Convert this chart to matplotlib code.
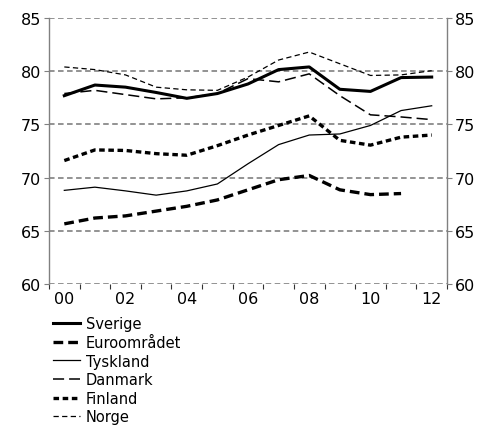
import matplotlib
matplotlib.use("Agg")
import matplotlib.pyplot as plt
import numpy as np

years = list(range(2000, 2013))
year_labels = ["00", "02", "04", "06", "08", "10", "12"]

sverige = [77.7, 78.7, 78.5, 78.0, 77.45, 77.9, 78.8, 80.15, 80.4, 78.3, 78.1, 79.4, 79.45]
euro = [65.65, 66.2, 66.4, 66.85, 67.3, 67.9, 68.85, 69.8, 70.2, 68.85, 68.4, 68.5]
tyskland = [68.8, 69.1, 68.75, 68.35, 68.75, 69.4, 71.3, 73.1, 74.0, 74.1, 74.9, 76.3, 76.75]
danmark = [77.9, 78.2, 77.8, 77.4, 77.5, 77.9, 79.3, 79.0, 79.75, 77.7, 75.9, 75.7, 75.45]
finland = [71.6, 72.6, 72.55, 72.25, 72.1, 73.0, 74.0, 74.9, 75.8, 73.5, 73.05, 73.8, 74.0]
norge = [80.4, 80.15, 79.65, 78.5, 78.25, 78.2, 79.45, 81.05, 81.8, 80.7, 79.6, 79.65, 80.05]

plt.rcParams['font.family'] = ['DejaVu Sans']
plt.rcParams['font.size'] = 10.5
plt.rcParams['lines.scale_dashes'] = False

fig = plt.figure(figsize=(4.89, 4.27), dpi=100)
ax = fig.add_axes([0.1002, 0.3326, 0.8139, 0.6229])

x = np.arange(len(years))

lines = []
lines += ax.plot(x, sverige, color='black', lw=2.2, label='Sverige')
lines += ax.plot(x[:len(euro)], euro, color='black', lw=2.4, dashes=(7, 3.6), label='Euroområdet')
lines += ax.plot(x, tyskland, color='black', lw=0.9, label='Tyskland')
lines += ax.plot(x, danmark, color='black', lw=1.1, dashes=(8, 3.6), label='Danmark')
lines += ax.plot(x, finland, color='black', lw=2.4, dashes=(4, 2.6), label='Finland')
lines += ax.plot(x, norge, color='black', lw=0.9, dashes=(3.8, 2.4), label='Norge')

ax.set_ylim(60, 85)
ax.set_xlim(-0.5, 12.5)
ax.set_yticks([60, 65, 70, 75, 80, 85])
ax.yaxis.grid(True, color='#808080', lw=1.2, dashes=(4, 2.5))
ax.set_axisbelow(True)

ax.set_xticks(np.arange(0, 13, 2))
ax.set_xticklabels(year_labels)
ax.set_xticks(np.arange(-0.5, 13, 1), minor=True)
ax.tick_params(axis='x', which='major', length=0, pad=5, labelsize=11.5)
ax.tick_params(axis='x', which='minor', length=3.5, color='#333333', width=0.8)
ax.tick_params(axis='y', left=True, right=True, labelleft=True, labelright=True,
               length=3.5, color='#808080', width=0.8, pad=2, labelsize=11.5)

for s in ['top', 'bottom']:
    ax.spines[s].set_visible(False)
for s in ['left', 'right']:
    ax.spines[s].set_color('#808080')
    ax.spines[s].set_linewidth(1.0)

fig.legend(handles=lines, loc='upper left', bbox_to_anchor=(0.108, 0.257),
           frameon=False, handlelength=1.85, handletextpad=0.4,
           labelspacing=0.25, borderpad=0, borderaxespad=0)

fig.savefig('out.png', dpi=100)
